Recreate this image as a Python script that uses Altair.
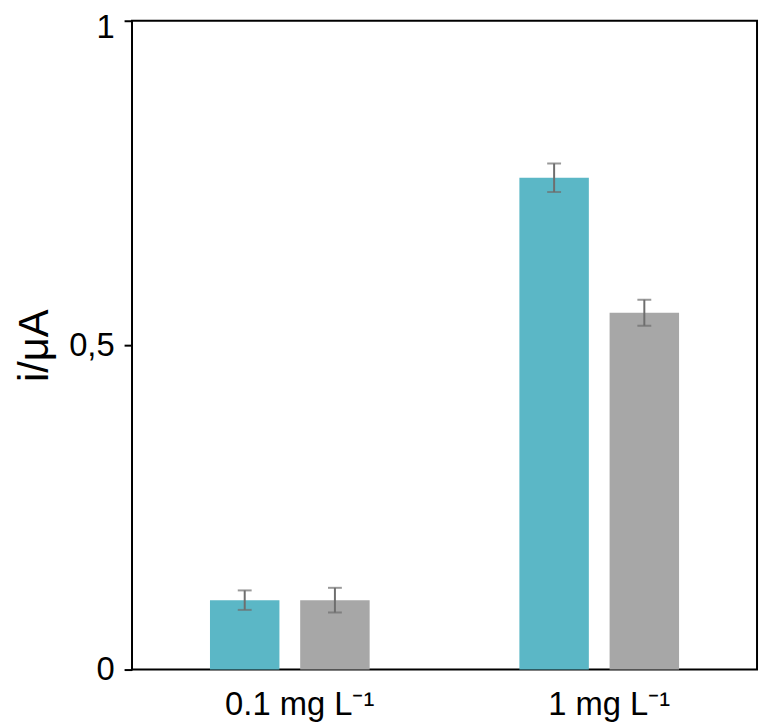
import altair as alt
import pandas as pd

categories = ["0.1 mg L⁻¹", "1 mg L⁻¹"]
series = ["teal", "gray"]
teal_values = [0.107, 0.758]
gray_values = [0.107, 0.550]
teal_err = [0.015, 0.022]
gray_err = [0.019, 0.020]
colors = ["#5BB7C6", "#A7A7A7"]

rows = []
for i, c in enumerate(categories):
    for s, vals, errs in ((series[0], teal_values, teal_err), (series[1], gray_values, gray_err)):
        rows.append({"category": c, "series": s, "value": vals[i],
                     "lo": vals[i] - errs[i], "hi": vals[i] + errs[i]})
df = pd.DataFrame(rows)

FONT = "Liberation Sans"

x = alt.X("category:N", sort=categories,
          scale=alt.Scale(paddingInner=0, paddingOuter=0.01),
          axis=alt.Axis(title=None, labelAngle=0, ticks=False, domain=False,
                        labelFontSize=33, labelFont=FONT, labelColor="black",
                        labelPadding=19, labelOffset=10))
xo = alt.XOffset("series:N", sort=series,
                 scale=alt.Scale(paddingInner=0.23, paddingOuter=0.83))
yscale = alt.Scale(domain=[0, 1], nice=False)

base = alt.Chart(df)

bars = base.mark_bar().encode(
    x=x, xOffset=xo,
    y=alt.Y("value:Q", scale=yscale,
            axis=alt.Axis(title="i/μA", values=[0, 0.5, 1], format=".1~f",
                          labelExpr="replace(datum.label, '.', ',')",
                          grid=False, domain=False, tickSize=8, tickWidth=2,
                          tickColor="black", labelFontSize=33, labelFont=FONT,
                          labelColor="black", labelPadding=10,
                          labelOffset={"condition": {"test": "datum.value == 1", "value": 7}, "value": 0},
                          titleFontSize=42, titleFont=FONT, titleFontWeight="normal",
                          titleColor="black", titlePadding=12)),
    color=alt.Color("series:N", sort=series,
                    scale=alt.Scale(domain=series, range=colors), legend=None),
)

err = base.mark_rule(color="#6E6E6E", strokeWidth=2).encode(
    x=x, xOffset=xo, y=alt.Y("lo:Q", scale=yscale), y2="hi:Q")
cap_hi = base.mark_tick(color="#6E6E6E", thickness=2, size=14).encode(
    x=x, xOffset=xo, y=alt.Y("hi:Q", scale=yscale))
cap_lo = base.mark_tick(color="#6E6E6E", thickness=2, size=14).encode(
    x=x, xOffset=xo, y=alt.Y("lo:Q", scale=yscale))

chart = alt.layer(bars, err, cap_hi, cap_lo).properties(
    width=630, height=654,
    autosize=alt.AutoSizeParams(type="none"),
    padding={"left": 125, "top": 10, "right": 3, "bottom": 50},
    background="white",
).configure_view(stroke="black", strokeWidth=2)

chart.save("out.html", embed_options={"renderer": "svg", "actions": False})
